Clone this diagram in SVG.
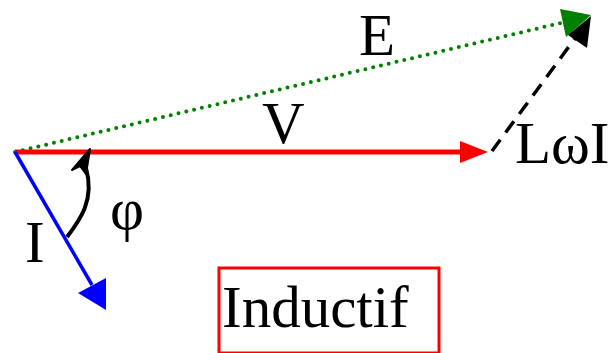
<svg xmlns="http://www.w3.org/2000/svg" width="608" height="353" viewBox="0 0 608 353">
<style>
text{font-family:"Liberation Serif","Times New Roman",serif;fill:#000;font-size:59px}
</style>
<rect width="608" height="353" fill="#fff"/>
<g id="connectors">
<line x1="15" y1="152" x2="565" y2="22" stroke="#008000" stroke-width="4" stroke-dasharray="0 8" stroke-linecap="round"/>
<polygon points="591,15 560,9 566,37" fill="#008000"/>
<line x1="15" y1="152" x2="462" y2="152" stroke="#ff0000" stroke-width="5"/>
<polygon points="488,152 460,141 460,163" fill="#ff0000"/>
<line x1="492" y1="151" x2="576" y2="37" stroke="#000" stroke-width="3.5" stroke-dasharray="14 9"/>
<polygon points="591,16 587,48 568,35" fill="#000"/>
<line x1="15" y1="152" x2="92" y2="285" stroke="#0000ff" stroke-width="3.5"/>
<polygon points="106,310 106,278 78,293" fill="#0000ff"/>
<path d="M67,237 C80,220 95,200 86,168" fill="none" stroke="#000" stroke-width="4"/>
<path d="M90,149 L72,170 L80,166 L86,174 Z" fill="#000" stroke="#000" stroke-width="2" stroke-linejoin="round"/>
</g>
<g id="label-E"><text x="359" y="55">E</text></g>
<g id="label-V"><text x="262" y="143">V</text></g>
<g id="label-LwI"><text x="515" y="163" font-size="54">LωI</text></g>
<g id="label-phi"><text x="110" y="229">φ</text></g>
<g id="label-I"><text x="25" y="262">I</text></g>
<g id="node-inductif">
<rect x="219" y="268" width="220" height="85" fill="none" stroke="#ff0000" stroke-width="3"/>
<text x="222" y="327">Inductif</text>
</g>
</svg>
